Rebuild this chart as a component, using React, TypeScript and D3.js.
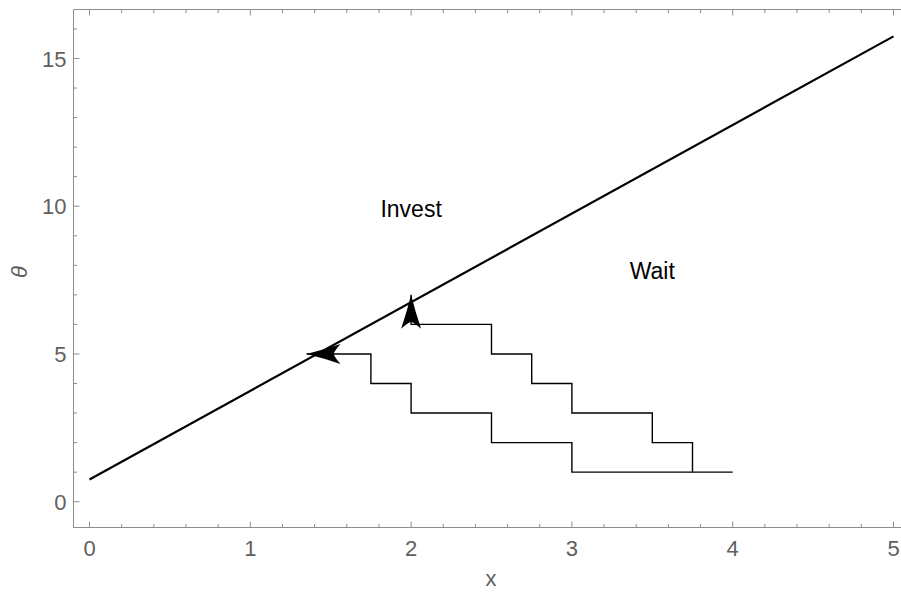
import React from "react";
import * as d3 from "d3";

// boundary line θ = a + b x
const boundaryX = [0, 5];
const boundaryY = [0.75, 15.75];

// lower staircase (ends with arrow pointing left onto boundary)
const lowerX = [4, 3, 3, 2.5, 2.5, 2, 2, 1.75, 1.75, 1.35];
const lowerY = [1, 1, 2, 2, 3, 3, 4, 4, 5, 5];

// upper staircase (ends with arrow pointing up onto boundary)
const upperX = [3.75, 3.75, 3.5, 3.5, 3, 3, 2.75, 2.75, 2.5, 2.5, 2, 2];
const upperY = [1, 2, 2, 3, 3, 4, 4, 5, 5, 6, 6, 7];

const xTicks = [0, 1, 2, 3, 4, 5];
const yTicks = [0, 5, 10, 15];

const labelTexts = ["Invest", "Wait"];
const labelX = [2, 3.5];
const labelY = [9.9, 7.8];

const W = 901;
const H = 592;
const frameL = 73.5;
const frameR = 901.5;
const frameT = 9.5;
const frameB = 527.5;

const x = d3.scaleLinear().domain([0, 5]).range([89.5, 893.5]);
const y = d3.scaleLinear().domain([0, 15]).range([501.7, 58.5]);

const frameColor = "#8c8c8c";
const tickLabelColor = "#606060";
const font = "'Liberation Sans', Arial, Helvetica, sans-serif";

function Arrowhead({ tx, ty, angle }: { tx: number; ty: number; angle: number }) {
  // tip at origin, pointing along +x
  const L = 34;
  const w = 10;
  const n = 27;
  const d = `M0,0 Q${-L * 0.5},${w * 0.42} ${-L},${w} Q${-n - 1.5},${w * 0.4} ${-n},0 Q${-n - 1.5},${-w * 0.4} ${-L},${-w} Q${-L * 0.5},${-w * 0.42} 0,0 Z`;
  return <path d={d} fill="#000" transform={`translate(${tx},${ty}) rotate(${angle})`} />;
}

export default function App() {
  const mk = (xs: number[], ys: number[]) =>
    d3
      .line<number>()
      .x((v) => x(v))
      .y((_, i) => y(ys[i]))(xs) as string;

  const xMinor: number[] = [];
  for (let v = 0; v <= 5.0001; v += 0.2) {
    const r = Math.round(v * 10) / 10;
    if (!xTicks.includes(r)) xMinor.push(r);
  }
  const yMinor: number[] = [];
  for (let v = 0; v <= 16; v += 1) {
    if (!yTicks.includes(v)) yMinor.push(v);
  }

  const lowerEndX = x(lowerX[lowerX.length - 1]);
  const lowerEndY = y(lowerY[lowerY.length - 1]);
  const upperEndX = x(upperX[upperX.length - 1]);
  const upperEndY = y(upperY[upperY.length - 1]);

  return (
    <svg width={W} height={H} style={{ display: "block", position: "absolute", left: 0, top: 0 }}>
      <rect width={W} height={H} fill="#fff" />
      {/* frame */}
      <g stroke={frameColor} strokeWidth={1} fill="none">
        <line x1={frameL} y1={frameB} x2={frameR} y2={frameB} />
        <line x1={frameL} y1={frameT} x2={frameR} y2={frameT} />
        <line x1={frameL} y1={frameT} x2={frameL} y2={frameB} />
        {xTicks.map((t) => (
          <g key={"xt" + t}>
            <line x1={x(t)} x2={x(t)} y1={frameB} y2={frameB - 6} />
            <line x1={x(t)} x2={x(t)} y1={frameT} y2={frameT + 6} />
          </g>
        ))}
        {xMinor.map((t) => (
          <g key={"xm" + t}>
            <line x1={x(t)} x2={x(t)} y1={frameB} y2={frameB - 3.5} />
            <line x1={x(t)} x2={x(t)} y1={frameT} y2={frameT + 3.5} />
          </g>
        ))}
        {yTicks.map((t) => (
          <line key={"yt" + t} x1={frameL} x2={frameL + 6} y1={y(t)} y2={y(t)} />
        ))}
        {yMinor.map((t) => (
          <line key={"ym" + t} x1={frameL} x2={frameL + 3.5} y1={y(t)} y2={y(t)} />
        ))}
      </g>
      {/* tick labels */}
      <g fill={tickLabelColor} fontFamily={font} fontSize={22}>
        {xTicks.map((t) => (
          <text key={"xl" + t} x={x(t)} y={556} textAnchor="middle">
            {t}
          </text>
        ))}
        {yTicks.map((t) => (
          <text key={"yl" + t} x={66.5} y={y(t) + 8} textAnchor="end">
            {t}
          </text>
        ))}
      </g>
      {/* axis labels */}
      <text x={491} y={586} textAnchor="middle" fontFamily={font} fontSize={22} fill={tickLabelColor}>
        x
      </text>
      <text
        transform="translate(27,272) rotate(-90)"
        textAnchor="middle"
        fontFamily={font}
        fontSize={22}
        fontStyle="italic"
        fill={tickLabelColor}
      >
        θ
      </text>
      {/* boundary */}
      <path d={mk(boundaryX, boundaryY)} stroke="#000" strokeWidth={2.2} fill="none" />
      {/* staircases */}
      <path d={mk(lowerX, lowerY)} stroke="#000" strokeWidth={1.4} fill="none" />
      <path d={mk(upperX, upperY)} stroke="#000" strokeWidth={1.4} fill="none" />
      <Arrowhead tx={lowerEndX} ty={lowerEndY} angle={180} />
      <Arrowhead tx={upperEndX} ty={upperEndY} angle={-90} />
      {/* region labels */}
      {labelTexts.map((s, i) => (
        <text
          key={s}
          x={x(labelX[i])}
          y={y(labelY[i])}
          dy="0.35em"
          textAnchor="middle"
          fontFamily={font}
          fontSize={23}
          fill="#000"
        >
          {s}
        </text>
      ))}
    </svg>
  );
}
